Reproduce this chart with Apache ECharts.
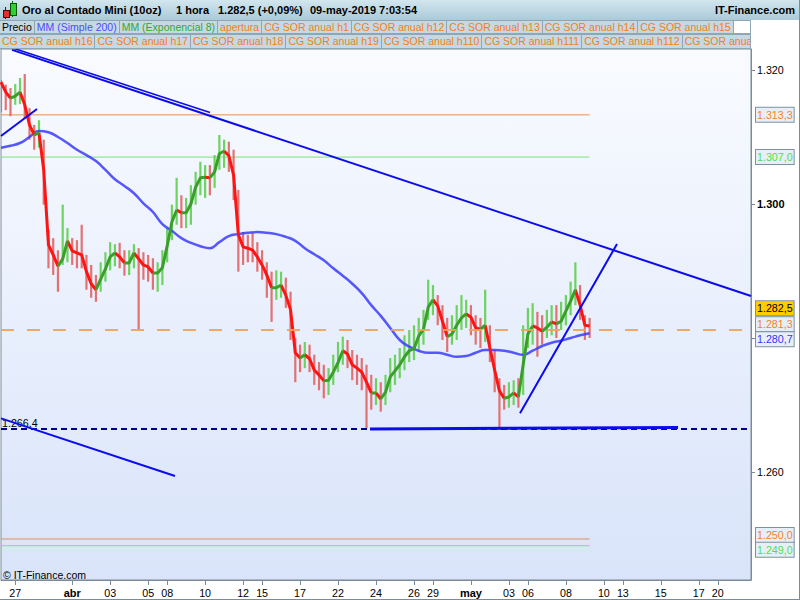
<!DOCTYPE html>
<html>
<head>
<meta charset="utf-8">
<script src="https://cdn.jsdelivr.net/npm/echarts@6/dist/echarts.min.js"></script>
<style>
html,body{margin:0;padding:0;background:#fff;}
#wrap{position:relative;width:800px;height:600px;overflow:hidden;font-family:"Liberation Sans",Arial,sans-serif;}
#chart{position:absolute;left:0;top:0;width:800px;height:600px;}
#titlebar{position:absolute;left:0;top:0;width:800px;height:20px;background:linear-gradient(#d2e6ee,#abcad9);}
#titlebar span{position:absolute;top:3px;font-size:11px;font-weight:bold;line-height:14px;color:#000;white-space:nowrap;}
.row{position:absolute;left:0;width:751px;overflow:hidden;display:flex;white-space:nowrap;}
.row div{font-size:10.5px;line-height:12px;padding:0 2px;background:#c6d9e3;border:1px solid #8fa7b5;border-left:none;flex:none;overflow:hidden;}
.row div.fill{flex:1 1 auto;}
#row1{top:20px;height:14px;}
#row2{top:34px;height:15px;}
#row2 div{line-height:13px;}
#frame{position:absolute;left:0;top:0;width:799px;height:599px;border-right:1px solid #7b8c98;border-bottom:1px solid #7b8c98;pointer-events:none;}
.ic{position:absolute;}
</style>
</head>
<body>
<div id="wrap">
  <div id="chart"></div>
  <div id="titlebar">
    <div class="ic" style="left:5px;top:7px;width:1px;height:12px;background:#700;"></div>
    <div class="ic" style="left:3px;top:10px;width:5px;height:6px;background:#e03030;border:1px solid #600;"></div>
    <div class="ic" style="left:12px;top:1px;width:1px;height:16px;background:#060;"></div>
    <div class="ic" style="left:10px;top:3px;width:5px;height:11px;background:#30d030;border:1px solid #050;"></div>
    <span id="tName" style="left:22px;"></span>
    <span id="tPeriod" style="left:176px;"></span>
    <span id="tPrice" style="left:218px;"></span>
    <span id="tDate" style="left:310px;"></span>
    <span id="tSite" style="right:5px;"></span>
  </div>
  <div id="row1" class="row"></div>
  <div id="row2" class="row"></div>
  <div id="frame"></div>
</div>
<script>
// ---------------- DATA ----------------
// time axis: trading-day index (0 = 27 mar), EMA/bars sampled every 0.25 day from -0.75
const emaStart = -0.75, emaStep = 0.25;
const ema8 = [
 1318.2,1316.7,1315.8,1316.1,1316.7,1314.8,1311.8,1310.3,1310.6,1305.1,
 1293.9,1292.4,1290.7,1291.8,1294.5,1293.0,1292.7,1292.4,1289.9,1288.1,
 1287.2,1288.8,1290.3,1292.1,1292.7,1292.1,1291.2,1291.2,1292.7,1291.8,
 1290.9,1290.6,1289.7,1289.7,1290.5,1293.7,1297.3,1299.1,1298.7,1298.7,
 1300.0,1302.5,1303.9,1304.0,1303.9,1304.8,1307.5,1307.9,1307.2,1304.3,
 1295.4,1293.6,1293.4,1293.1,1292.1,1290.9,1289.4,1287.5,1287.5,1287.9,
 1286.4,1284.2,1277.8,1277.0,1277.5,1276.9,1275.2,1274.5,1273.6,1273.7,
 1274.9,1276.3,1278.1,1277.6,1276.0,1275.5,1274.9,1273.4,1271.8,1271.8,
 1270.9,1271.9,1274.2,1275.1,1276.0,1277.2,1278.1,1278.4,1280.3,1281.3,
 1284.6,1285.7,1284.8,1282.5,1280.2,1280.6,1281.9,1283.0,1283.6,1283.1,
 1281.5,1281.3,1281.9,1278.5,1275.2,1272.1,1271.0,1271.2,1271.8,1271.2,
 1276.0,1280.6,1281.8,1281.5,1281.0,1281.6,1282.4,1282.1,1282.5,1284.0,
 1285.5,1287.2,1284.9,1281.9,1281.8];
const barHigh = [
 1318.5,1317.8,1317.3,1317.9,1318.8,1319.4,1314.3,1311.8,1312.5,1309.6,
 1296.1,1294.9,1293.1,1299.9,1296.4,1294.9,1294.6,1296.9,1292.4,1290.9,
 1289.4,1291.3,1292.8,1294.3,1294.0,1294.2,1293.1,1293.1,1294.0,1293.4,
 1292.8,1292.4,1291.9,1291.3,1293.1,1296.4,1299.9,1303.9,1301.3,1300.9,
 1302.8,1304.8,1306.3,1305.8,1305.8,1307.3,1310.3,1309.6,1309.3,1308.1,
 1302.1,1295.8,1295.4,1295.7,1294.3,1293.1,1291.3,1289.9,1290.1,1289.9,
 1289.0,1286.9,1280.0,1279.0,1279.4,1279.0,1277.5,1276.4,1276.0,1275.5,
 1277.5,1279.4,1280.2,1279.7,1278.2,1277.5,1277.0,1276.0,1274.5,1274.0,
 1273.4,1274.5,1277.0,1277.5,1278.5,1280.4,1281.2,1281.9,1283.0,1284.2,
 1288.7,1287.9,1286.4,1284.9,1283.0,1283.4,1284.9,1286.4,1285.7,1284.9,
 1283.4,1283.0,1287.2,1281.9,1278.2,1274.0,1273.0,1273.4,1273.7,1274.0,
 1281.9,1284.5,1285.2,1283.9,1283.4,1284.2,1284.9,1284.9,1285.4,1286.4,
 1288.4,1291.3,1287.9,1283.4,1283.0];
const barLow = [
 1313.7,1314.0,1313.1,1314.8,1314.9,1312.8,1309.6,1308.1,1308.4,1299.9,
 1290.4,1289.4,1286.9,1290.9,1291.3,1290.9,1290.4,1290.4,1287.2,1286.0,
 1285.4,1286.9,1288.4,1290.1,1290.7,1290.4,1289.3,1289.4,1290.4,1281.2,
 1288.7,1288.4,1287.2,1286.9,1287.9,1291.3,1294.6,1296.9,1296.4,1296.4,
 1296.9,1299.9,1301.3,1300.9,1301.3,1302.4,1305.1,1305.4,1304.8,1300.6,
 1289.9,1290.9,1291.3,1291.3,1289.9,1288.7,1286.0,1282.4,1285.7,1286.0,
 1284.5,1279.7,1273.4,1274.9,1275.5,1274.9,1273.0,1272.2,1271.0,1271.5,
 1273.0,1274.9,1276.0,1275.5,1273.7,1273.0,1272.2,1266.5,1269.3,1270.0,
 1269.0,1270.0,1271.9,1273.0,1274.0,1275.2,1276.4,1276.7,1277.9,1279.0,
 1282.7,1283.4,1281.9,1279.7,1277.9,1279.0,1279.7,1281.2,1281.5,1280.4,
 1279.0,1278.5,1279.4,1276.4,1271.9,1266.6,1269.3,1269.6,1270.0,1269.6,
 1271.5,1278.5,1279.0,1277.2,1279.0,1280.0,1280.4,1280.0,1281.2,1281.9,
 1283.4,1284.9,1282.7,1279.7,1280.0];
// SMA 200 sampled every 0.5 day from -0.75
const smaStart = -0.75, smaStep = 0.5;
const sma200 = [
 1308.4,1308.7,1309.1,1310.0,1310.9,1310.7,1310.0,1309.1,1308.1,1307.3,
 1306.4,1305.1,1303.7,1302.7,1301.6,1300.1,1298.8,1297.0,1296.0,1294.9,
 1294.2,1293.7,1293.4,1294.3,1295.2,1295.5,1295.7,1295.8,1295.7,1295.5,
 1295.1,1294.5,1293.4,1292.5,1291.6,1290.4,1289.3,1288.1,1286.7,1284.9,
 1283.3,1281.5,1279.7,1278.7,1278.1,1277.8,1277.8,1277.5,1277.2,1277.3,
 1277.8,1278.2,1278.2,1278.1,1277.8,1277.5,1278.1,1278.8,1279.3,1279.6,
 1280.0,1280.4,1280.7];
// x axis ticks (trading-day index) and labels
const tickDays   = [0,3,5,7,8,10,12,13,15,17,19,21,22,24,26,27,29,31,32,34,36,37];
const tickLabels = ['27','abr','03','05','08','10','12','15','17','22','24','26','29','may','03','06','08','10','13','15','17','20'];
const monthLabels = ['abr','may'];
// levels
const lastClose = 1282.5;
const openLevel = 1281.3;
const smaLast = 1280.7;
const sorLevels = [1313.3, 1307.0, 1250.0, 1249.0];
const sorColors = ['#e39058', '#7ee07e', '#e39058', '#7ee07e'];
const supportLevel = 1266.4;
// drawn trend lines: [[day, price], [day, price]]
const trendLines = [
  [[-0.171, 1323.0], [38.75, 1286.27]],
  [[-0.223, 1323.36], [10.258, 1313.66]],
  [[-0.75, 1310.15], [1.146, 1314.18]],
  [[-0.75, 1268.0], [8.414, 1259.4]],
  [[18.684, 1266.42], [34.906, 1266.64]],
  [[26.585, 1268.76], [31.693, 1294.03]]
];
const trendWidths = [2, 1.5, 2, 2, 3, 2];
// header texts
const titleName = 'Oro al Contado Mini (10oz)';
const titlePeriod = '1 hora';
const titlePrice = '1.282,5 (+0,09%)';
const titleDate = '09-may-2019 7:03:54';
const siteName = 'IT-Finance.com';
const legendRow1 = ['Precio','MM (Simple 200)','MM (Exponencial 8)','apertura','CG SOR anual h1','CG SOR anual h12','CG SOR anual h13','CG SOR anual h14','CG SOR anual h15'];
const legendRow2 = ['CG SOR anual h16','CG SOR anual h17','CG SOR anual h18','CG SOR anual h19','CG SOR anual h110','CG SOR anual h111','CG SOR anual h112','CG SOR anua'];

// ---------------- HEADER ----------------
const ORANGE = '#f07f22';
document.getElementById('tName').textContent = titleName;
document.getElementById('tPeriod').textContent = titlePeriod;
document.getElementById('tPrice').textContent = titlePrice;
document.getElementById('tDate').textContent = titleDate;
document.getElementById('tSite').textContent = siteName;
function legendColor(t){
  if (t === 'Precio') return '#000';
  if (t.indexOf('Simple') >= 0) return '#4b4bff';
  if (t.indexOf('Exponencial') >= 0) return '#33a633';
  return ORANGE;
}
function fillRow(id, items, extraWhite){
  const row = document.getElementById(id);
  items.forEach((t, k) => {
    const d = document.createElement('div'); d.textContent = t; d.style.color = legendColor(t);
    if (!extraWhite && k === items.length - 1) d.className = 'fill';
    row.appendChild(d);
  });
  if (extraWhite){ const d = document.createElement('div'); d.className = 'fill'; d.style.background = '#fff'; row.appendChild(d); }
}
fillRow('row1', legendRow1, true);
fillRow('row2', legendRow2, false);

// ---------------- CHART ----------------
const xMin = -0.75, xMax = 38.75, slot = 0.25;
const yMin = 1243.88, yMax = 1323.13;
const nSlots = Math.round((xMax - xMin) / slot) + 1;
const cats = [], labelMap = {};
for (let k = 0; k < nSlots; k++) cats.push('s' + k);
tickDays.forEach((d, j) => { labelMap[Math.round((d - xMin) / slot)] = tickLabels[j]; });

function fmt(v, dec){
  const s = v.toFixed(dec);
  const parts = s.split('.');
  const intp = parts[0].replace(/\B(?=(\d{3})+(?!\d))/g, '.');
  return dec > 0 ? intp + ',' + parts[1] : intp;
}

const emaT = ema8.map((_, i) => emaStart + i * emaStep);
function segSeries(up){
  const out = []; let prevIn = false;
  for (let i = 0; i < ema8.length - 1; i++) {
    const isUp = ema8[i + 1] >= ema8[i];
    if (isUp === up) {
      if (!prevIn) out.push([emaT[i], ema8[i]]);
      out.push([emaT[i + 1], ema8[i + 1]]);
      prevIn = true;
    } else {
      if (prevIn) out.push([emaT[i], null]);
      prevIn = false;
    }
  }
  return out;
}
const barData = ema8.map((e, i) => {
  const dir = i > 0 ? (e >= ema8[i - 1] ? 1 : -1) : (ema8[1] >= e ? 1 : -1);
  return [emaT[i], barLow[i], barHigh[i], dir];
});
const smaData = sma200.map((v, i) => [smaStart + i * smaStep, v]);
const lastT = emaT[emaT.length - 1];

const series = [];
// SOR horizontal levels (thin)
sorLevels.forEach((lv, j) => {
  series.push({ type: 'line', xAxisIndex: 1, data: [[xMin, lv], [lastT, lv]], showSymbol: false, silent: true, z: 1,
    lineStyle: { color: sorColors[j], width: 1 } });
});
// price bars
series.push({
  type: 'custom', xAxisIndex: 1, data: barData, z: 2, clip: true, silent: true,
  encode: { x: 0, y: [1, 2] },
  renderItem: function (params, api) {
    const top = api.coord([api.value(0), api.value(2)]);
    const bot = api.coord([api.value(0), api.value(1)]);
    const w = 2.2;
    return { type: 'rect', shape: { x: top[0] - w / 2, y: top[1], width: w, height: Math.max(1, bot[1] - top[1]) },
      style: { fill: api.value(3) > 0 ? '#5fcf4f' : '#e06464', opacity: 0.9 } };
  }
});
// SMA 200
series.push({ type: 'line', xAxisIndex: 1, data: smaData, showSymbol: false, smooth: true, silent: true, z: 3,
  lineStyle: { color: '#3b3bff', width: 2.5, opacity: 0.85 } });
// EMA 8 (down red, up green)
series.push({ type: 'line', xAxisIndex: 1, data: segSeries(false), showSymbol: false, connectNulls: false, silent: true, z: 4,
  lineStyle: { color: '#ff1414', width: 3 } });
series.push({ type: 'line', xAxisIndex: 1, data: segSeries(true), showSymbol: false, connectNulls: false, silent: true, z: 4,
  lineStyle: { color: '#3a9f2a', width: 3 } });
// trend lines
trendLines.forEach((tl, j) => {
  series.push({ type: 'line', xAxisIndex: 1, data: tl, showSymbol: false, silent: true, z: 6,
    lineStyle: { color: '#0b0bee', width: trendWidths[j] } });
});
// dashed levels and right-hand labels
const boxBg = '#e8eef8', boxBorder = '#7c92a2';
function rightLabel(value, color, bg, dy){
  return { yAxis: value, lineStyle: { color: 'rgba(0,0,0,0)', width: 0 },
    label: { show: true, position: 'end', distance: 5, offset: [0, dy], formatter: fmt(value, 1), color: color,
      fontSize: 10.7, fontFamily: 'Liberation Sans', lineHeight: 12, backgroundColor: bg, borderColor: boxBorder, borderWidth: 1, padding: [1, 1, 1, 1] } };
}
series.push({
  type: 'line', xAxisIndex: 1, data: [], silent: true, z: 5,
  markLine: {
    silent: true, symbol: ['none', 'none'], animation: false,
    data: [
      { yAxis: openLevel, lineStyle: { color: '#f4a056', width: 2, type: [13, 13], opacity: 0.9 }, label: { show: false } },
      { yAxis: supportLevel, lineStyle: { color: '#00008b', width: 2, type: [6, 4] },
        label: { show: true, position: 'insideStartTop', distance: [1, 1], formatter: fmt(supportLevel, 1), color: '#000', fontSize: 10.7, fontFamily: 'Liberation Sans' } },
      rightLabel(sorLevels[0], '#f0842a', boxBg, 0),
      rightLabel(sorLevels[1], '#4ee04e', boxBg, 0),
      rightLabel(sorLevels[2], '#f0842a', boxBg, -4),
      rightLabel(sorLevels[3], '#4ee04e', boxBg, 4),
      rightLabel(openLevel, '#f0842a', boxBg, -5),
      rightLabel(lastClose, '#000', '#ffcc00', -13),
      rightLabel(smaLast, '#3535ff', boxBg, 6)
    ]
  }
});

const chart = echarts.init(document.getElementById('chart'), null, { renderer: 'svg' });
chart.setOption({
  animation: false,
  backgroundColor: '#ffffff',
  textStyle: { fontFamily: 'Liberation Sans' },
  grid: { left: 1, right: 49, top: 49, bottom: 20, show: true, borderColor: '#7b8c98', borderWidth: 1,
    backgroundColor: new echarts.graphic.LinearGradient(0, 0, 0, 1, [{ offset: 0, color: '#f9fbff' }, { offset: 1, color: '#d9e4fa' }]) },
  xAxis: [
    { type: 'category', data: cats, boundaryGap: false, position: 'bottom',
      axisLine: { show: true, onZero: false, lineStyle: { color: '#7b8c98' } },
      axisTick: { show: true, length: 5, lineStyle: { color: '#7b8c98' }, interval: (i) => labelMap[i] !== undefined },
      axisLabel: { show: true, color: '#000', fontSize: 10.7, margin: 7,
        interval: (i) => labelMap[i] !== undefined,
        formatter: (v, i) => { const t = labelMap[i]; if (t === undefined) return ''; return monthLabels.indexOf(t) >= 0 ? '{b|' + t + '}' : t; },
        rich: { b: { fontWeight: 'bold', fontSize: 11, color: '#000' } } },
      splitLine: { show: false } },
    { type: 'value', min: xMin, max: xMax, show: false, splitLine: { show: false }, axisLine: { onZero: false } }
  ],
  yAxis: {
    type: 'value', position: 'right', min: yMin, max: yMax, scale: true,
    axisLine: { show: true, onZero: false, lineStyle: { color: '#7b8c98' } },
    axisTick: { show: true, length: 4, lineStyle: { color: '#7b8c98' } },
    splitLine: { show: false },
    axisLabel: { show: true, color: '#000', fontSize: 10.7, margin: 6, showMinLabel: false, showMaxLabel: false,
      formatter: (v) => {
        if (Math.abs(v / 20 - Math.round(v / 20)) > 1e-6) return '';
        if (Math.round(v) === 1280) return '';
        const s = fmt(v, 0);
        return Math.round(v) % 100 === 0 ? '{b|' + s + '}' : s;
      },
      rich: { b: { fontWeight: 'bold', fontSize: 11, color: '#000' } } }
  },
  graphic: [
    { type: 'text', left: 3, top: 569, z: 10, style: { text: '\u00a9 IT-Finance.com', fill: '#000', fontSize: 10.5, fontFamily: 'Liberation Sans' } }
  ],
  series: series
});
</script>
</body>
</html>
